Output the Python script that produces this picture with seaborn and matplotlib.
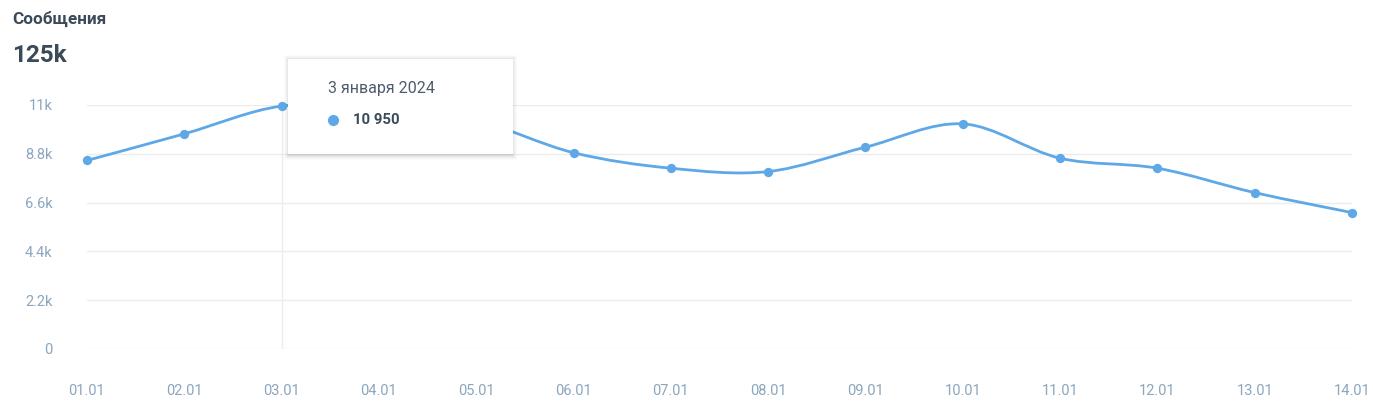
import numpy as np
import pandas as pd
import matplotlib
matplotlib.use("Agg")
import matplotlib.pyplot as plt
import seaborn as sns
from matplotlib.path import Path
from matplotlib.patches import PathPatch, FancyBboxPatch

# Data
days = ["01.01", "02.01", "03.01", "04.01", "05.01", "06.01", "07.01",
        "08.01", "09.01", "10.01", "11.01", "12.01", "13.01", "14.01"]
messages = [8500, 9700, 10950, 10850, 10300, 8850, 8150,
            8000, 9100, 10150, 8600, 8150, 7050, 6150]
y_ticks = [0, 2200, 4400, 6600, 8800, 11000]
y_labels = ["0", "2.2k", "4.4k", "6.6k", "8.8k", "11k"]
title = "Сообщения"
total = "125k"
tip_date = "3 января 2024"
tip_value = "10 950"
tip_idx = 2

df = pd.DataFrame({"pos": np.arange(len(days)), "day": days, "messages": messages})

sns.set_style("white")
plt.rcParams["font.family"] = ["Roboto", "DejaVu Sans"]

LINE = "#5fa8e8"
TICK = "#8ca6bd"
DARK = "#3b4a59"
W, H = 1373, 405

fig = plt.figure(figsize=(W / 100, H / 100), dpi=100)
ax = fig.add_axes([87 / W, 1 - 349 / H, (1352 - 87) / W, (349 - 105) / H])

# smooth curve (Catmull-Rom -> cubic bezier) through the data points
xs = df["pos"].to_numpy(float)
ys = df["messages"].to_numpy(float)
pts = np.column_stack([xs, ys])
verts = [pts[0]]
codes = [Path.MOVETO]
for i in range(len(pts) - 1):
    p0 = pts[max(i - 1, 0)]
    p1 = pts[i]
    p2 = pts[i + 1]
    p3 = pts[min(i + 2, len(pts) - 1)]
    verts += [p1 + (p2 - p0) / 6, p2 - (p3 - p1) / 6, p2]
    codes += [Path.CURVE4] * 3
ax.add_patch(PathPatch(Path(verts, codes), facecolor="none", edgecolor=LINE,
                       lw=2.0, zorder=3, clip_on=False, capstyle="round"))

sns.scatterplot(data=df, x="pos", y="messages", ax=ax, color=LINE, s=45,
                edgecolor=LINE, linewidth=0, zorder=4, clip_on=False)

ax.set_xlim(0, len(days) - 1)
ax.set_ylim(0, 11000)
ax.set_yticks(y_ticks)
ax.set_yticklabels(y_labels)
ax.set_xticks(df["pos"])
ax.set_xticklabels(days)
ax.set_xlabel("")
ax.set_ylabel("")
ax.tick_params(axis="y", length=0, pad=25, labelsize=10.5, labelcolor=TICK)
ax.tick_params(axis="x", length=0, pad=25, labelsize=10.5, labelcolor=TICK)
ax.grid(axis="y", color="#ececec", lw=1)
ax.grid(axis="x", visible=False)
for s in ax.spines.values():
    s.set_visible(False)
ax.axvline(tip_idx, color="#ececec", lw=1, zorder=1)

# header
fig.text(12 / W, 1 - 19 / H, title, fontsize=12.3, fontweight="bold",
         color=DARK, va="center", ha="left")
fig.text(12 / W, 1 - 56 / H, total, fontsize=17.5, fontweight="bold",
         color=DARK, va="center", ha="left")

# tooltip
bx0, by0, bx1, by1 = 288, 59, 513, 154
for k, a in [(5, 0.015), (4, 0.02), (3, 0.03), (2, 0.04), (1, 0.05)]:
    fig.patches.append(FancyBboxPatch(
        ((bx0 - k + 1) / W, 1 - (by1 + k + 1) / H), (bx1 - bx0 + 2 * k - 2) / W,
        (by1 - by0 + 2 * k) / H, boxstyle="square,pad=0", transform=fig.transFigure,
        facecolor="#1a2a3a", edgecolor="none", alpha=a, zorder=5))
fig.patches.append(FancyBboxPatch(
    (bx0 / W, 1 - by1 / H), (bx1 - bx0) / W, (by1 - by0) / H,
    boxstyle="square,pad=0", transform=fig.transFigure,
    facecolor="white", edgecolor="none", zorder=6))
fig.text(328 / W, 1 - 88 / H, tip_date, fontsize=11.5, color="#4d5d6d",
         va="center", ha="left", zorder=7)
fig.text(353 / W, 1 - 120 / H, tip_value, fontsize=10.7, fontweight="bold",
         color=DARK, va="center", ha="left", zorder=7)
fig.lines.append(plt.Line2D([333 / W], [1 - 120 / H], marker="o", ms=7,
                            color=LINE, transform=fig.transFigure, zorder=7))

fig.savefig("out.png", dpi=100, facecolor="white")
